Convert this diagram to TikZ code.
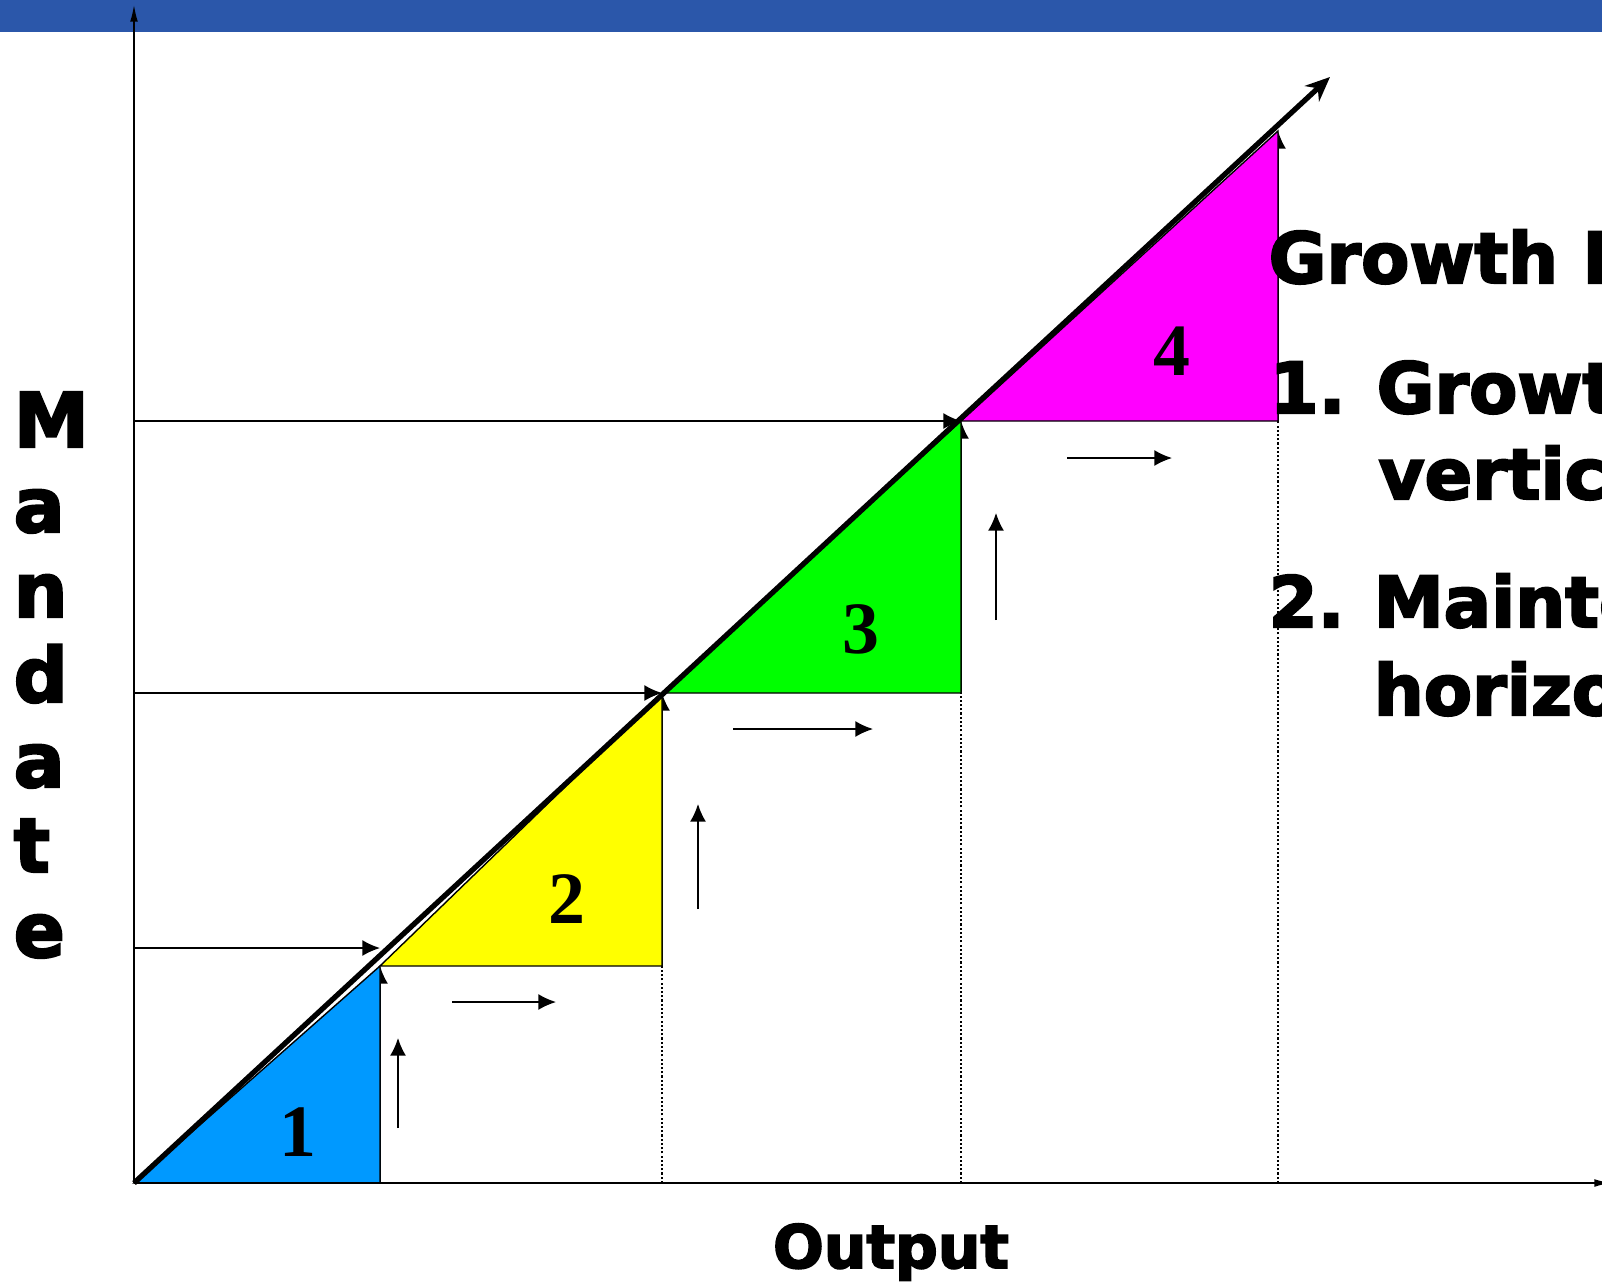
\documentclass[tikz,border=0pt]{standalone}
\usepackage{fontspec}
\usepackage{tikz}
\usetikzlibrary{arrows.meta}
\newfontfamily\heavy{DejaVu Sans Bold}[FakeBold=3]
\newfontfamily\numfont{Liberation Serif Bold}
\definecolor{header}{HTML}{2B57AA}
\definecolor{sky}{HTML}{0099FF}
\definecolor{lemon}{HTML}{FFFF00}
\definecolor{lime}{HTML}{00FF00}
\definecolor{pink}{HTML}{FF00FF}

\begin{document}
\begin{tikzpicture}[x=0.01cm, y=-0.01cm,
    axis/.style={line width=0.6pt, -{Latex[length=5pt,width=2.2pt]}},
    guide/.style={line width=0.4pt, -{Latex[length=5pt,width=4.5pt]}},
    hop/.style={line width=0.4pt, -{Latex[length=5pt,width=4.5pt]}},
    tri/.style={draw=black, line width=0.4pt},
    drop/.style={line width=0.45pt, dash pattern=on 0.6pt off 0.6pt},
    num/.style={font=\numfont\fontsize{21}{21}\selectfont, anchor=base, inner sep=0pt},
    vlab/.style={font=\heavy\fontsize{21.5}{21.5}\selectfont, anchor=base west, inner sep=0pt},
    rtext/.style={font=\heavy\fontsize{20}{20}\selectfont, anchor=base west, inner sep=0pt}]
    \useasboundingbox (0,0) rectangle (1602,1284);
    \clip (0,0) rectangle (1602,1284);

    % Header band
    \fill[header] (0,0) rectangle (1602,32);

    % Corner points of the steps
    \coordinate (O) at (134,1183);
    \coordinate (A1) at (380,966);
    \coordinate (A2) at (662,693);
    \coordinate (A3) at (961,421);
    \coordinate (A4) at (1278,131);
    \coordinate (B1) at (A1 |- O);
    \coordinate (B2) at (A2 |- A1);
    \coordinate (B3) at (A3 |- A2);
    \coordinate (B4) at (A4 |- A3);
    \coordinate (T) at (1330,77);

    % Dotted drops to the output axis
    \draw[drop] (A2 |- O) -- (B2);
    \draw[drop] (A3 |- O) -- (B3);
    \draw[drop] (A4 |- O) -- (B4);

    % Step edges
    \draw[guide] (B1) -- (A1);
    \draw[guide] (B2) -- (A2);
    \draw[guide] (B3) -- (A3);
    \draw[guide] (B4) -- (A4);

    % Triangles
    \filldraw[tri, fill=sky] (O) -- (B1) -- (A1) -- cycle;
    \filldraw[tri, fill=lemon] (A1) -- (B2) -- (A2) -- cycle;
    \filldraw[tri, fill=lime] (A2) -- (B3) -- (A3) -- cycle;
    \filldraw[tri, fill=pink] (A3) -- (B4) -- (A4) -- cycle;

    % Mandate levels
    \coordinate (H1) at (134,948);
    \coordinate (M1) at (380,948);
    \draw[guide] (H1) -- (M1);
    \draw[guide] (O |- A2) -- (A2);
    \draw[guide] (O |- A3) -- (A3);

    % Axes and growth line
    \draw[axis] (O) -- (134,4);
    \draw[axis] (O) -- (1612,1183);
    \draw[line width=1.5pt, -{Stealth[length=7pt,width=6pt]}] (O) -- (T);

    % Small direction arrows
    \draw[hop] (398,1128) -- (398,1038);
    \draw[hop] (452,1002) -- (556,1002);
    \draw[hop] (698,909) -- (698,804);
    \draw[hop] (733,729) -- (873,729);
    \draw[hop] (996,620) -- (996,513);
    \draw[hop] (1067,458) -- (1172,458);

    % Step numbers
    \node[num] (n1) at (298,1156) {1};
    \node[num] (n2) at (567,923) {2};
    \node[num] (n3) at (861,653) {3};
    \node[num] (n4) at (1172,375) {4};

    % Axis labels
    \foreach \ch [count=\i from 0] in {M,a,n,d,a,t,e}
        \node[vlab] (m\i) at (13,447+85*\i) {\ch};
    \node[vlab, anchor=base, font=\heavy\fontsize{17}{17}\selectfont] (out) at (891,1268) {Output};

    % Side text
    \node[rtext] (title) at (1268,283) {Growth I};
    \node[rtext] (k1) at (1269,413) {1.};
    \node[rtext] (p1) at (1376,413) {Growth};
    \node[rtext] (q1) at (1378,499) {vertical};
    \node[rtext] (k2) at (1268,627) {2.};
    \node[rtext] (p2) at (1373,627) {Maintenance};
    \node[rtext] (q2) at (1373,715) {horizontal};
\end{tikzpicture}
\end{document}
